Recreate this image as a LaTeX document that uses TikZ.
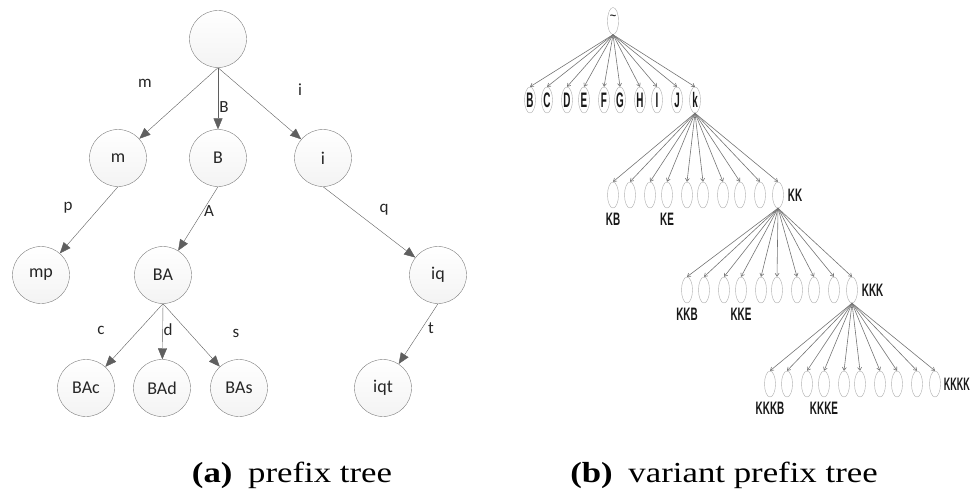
\documentclass[tikz,border=0pt]{standalone}
\usepackage{fontspec}
\usepackage{graphicx}
\setmainfont{Liberation Serif}
\setsansfont{Carlito}
\newfontfamily\narfont{Liberation Sans}
\usetikzlibrary{arrows.meta, shapes.geometric, positioning}
\definecolor{edgegray}{HTML}{5F5F5F}
\definecolor{ringgray}{HTML}{7E7E7E}
\definecolor{fangray}{HTML}{747474}
\newcommand{\narrow}[2][0.55]{\scalebox{#1}[1]{#2}}
\newcommand{\wide}[1]{\scalebox{1.2}[1]{#1}}
\tikzset{
  trienode/.style={
    circle, minimum size=57pt, inner sep=0pt,
    draw=ringgray, thin,
    top color=white, bottom color=gray!9,
    font=\sffamily\fontsize{18}{18}\selectfont, text=black!85,
  },
  trielabel/.style={font=\sffamily\fontsize{17}{17}\selectfont, text=black!85},
  triearrow/.style={-{Triangle[length=11pt, width=9pt]}, draw=edgegray, thin},
  leaf/.style={
    ellipse, minimum width=11pt, minimum height=26pt, inner sep=0pt,
    draw=gray!65, fill=white,
    font=\narfont\bfseries\fontsize{21}{21}\selectfont, text=black!90,
  },
  fan/.style={-{Straight Barb[length=3pt, width=4pt]}, draw=fangray, line width=0.6pt},
  tag/.style={inner sep=0pt, font=\narfont\bfseries\fontsize{18}{18}\selectfont, text=black!90},
  caption/.style={anchor=base, font=\fontsize{29}{29}\selectfont},
}
\begin{document}
\begin{tikzpicture}[x=1pt, y=-1pt]
  \useasboundingbox (0,0) rectangle (976,492);

  % (a) prefix tree
  \node[trienode] (root) at (218,39) {};
  \node[trienode] (m)   at (118,158) {m};
  \node[trienode] (B)   at (218,158) {B};
  \node[trienode] (i)   at (323,158) {i};
  \node[trienode] (mp)  at (41,275)  {mp};
  \node[trienode] (BA)  at (163,275) {BA};
  \node[trienode] (iq)  at (438,275) {iq};
  \node[trienode] (BAc) at (86,388)  {BAc};
  \node[trienode] (BAd) at (162,388) {BAd};
  \node[trienode] (BAs) at (239,388) {BAs};
  \node[trienode] (iqt) at (383,388) {iqt};

  \draw[triearrow] (root.south) -- (m);
  \draw[triearrow] (root.south) -- (B);
  \draw[triearrow] (root.south) -- (i);
  \draw[triearrow] (m.south) -- (mp);
  \draw[triearrow] (B.south) -- (BA);
  \draw[triearrow] (i.south) -- (iq);
  \draw[triearrow] (BA.south) -- (BAc);
  \draw[triearrow] (BA.south) -- (BAd);
  \draw[triearrow] (BA.south) -- (BAs);
  \draw[triearrow] (iq.south) -- (iqt);

  \node[trielabel] (lm) at (145,83)  {m};
  \node[trielabel] (lB) at (224,107) {B};
  \node[trielabel] (li) at (300,90)  {i};
  \node[trielabel] (lp) at (68,208)  {p};
  \node[trielabel] (lA) at (209,211) {A};
  \node[trielabel] (lq) at (384,210) {q};
  \node[trielabel] (lc) at (101,330) {c};
  \node[trielabel] (ld) at (168,330) {d};
  \node[trielabel] (ls) at (236,333) {s};
  \node[trielabel] (lt) at (431,328) {t};

  % (b) variant prefix tree
  \node[leaf, minimum height=27pt] (top) at (613,21) {};
  \node[font=\narfont\bfseries\fontsize{11}{11}\selectfont, text=black!85] (tilde) at (613,17) {\char`\~};

  \foreach \dx/\ch [count=\n] in {0/B,17/C,37/D,54/E,74/F,90/G,110/H,127/I,147/J,165/k}
    \node[leaf] (a\n) at (530+\dx,100) {\narrow[0.47]{\ch}};
  \foreach \n in {1,...,10}
    \draw[fan] (top.south) -- (a\n.north);

  \foreach \dx [count=\n] in {0,17,37,54,74,90,110,127,147,165}
    \node[leaf] (b\n) at (613+\dx,195) {};
  \foreach \n in {1,...,10}
    \draw[fan] (a10.south) -- (b\n.north);

  \foreach \dx [count=\n] in {0,17,37,54,74,90,110,127,147,165}
    \node[leaf] (c\n) at (687+\dx,290) {};
  \foreach \n in {1,...,10}
    \draw[fan] (b10.south) -- (c\n.north);

  \foreach \dx [count=\n] in {0,17,37,54,74,90,110,127,147,165}
    \node[leaf] (d\n) at (770+\dx,384) {};
  \foreach \n in {1,...,10}
    \draw[fan] (c10.south) -- (d\n.north);

  \node[tag, right=4pt of b10] (kk) {\narrow{KK}};
  \node[tag, below=5pt of b1] (kb) {\narrow{KB}};
  \node[tag, below=5pt of b4] (ke) {\narrow{KE}};
  \node[tag, right=4pt of c10] (kkk) {\narrow{KKK}};
  \node[tag, below=5pt of c1] (kkb) {\narrow{KKB}};
  \node[tag, below=5pt of c4] (kke) {\narrow{KKE}};
  \node[tag, right=3pt of d10] (kkkk) {\narrow[0.5]{KKKK}};
  \node[tag, below=5pt of d1] (kkkb) {\narrow{KKKB}};
  \node[tag, below=5pt of d4] (kkke) {\narrow{KKKE}};

  % captions
  \node[caption] (capa) at (292,482) {\wide{\textbf{(a)}\hspace{0.45em}prefix tree}};
  \node[caption] (capb) at (724,482) {\wide{\textbf{(b)}\hspace{0.45em}variant prefix tree}};
\end{tikzpicture}
\end{document}
